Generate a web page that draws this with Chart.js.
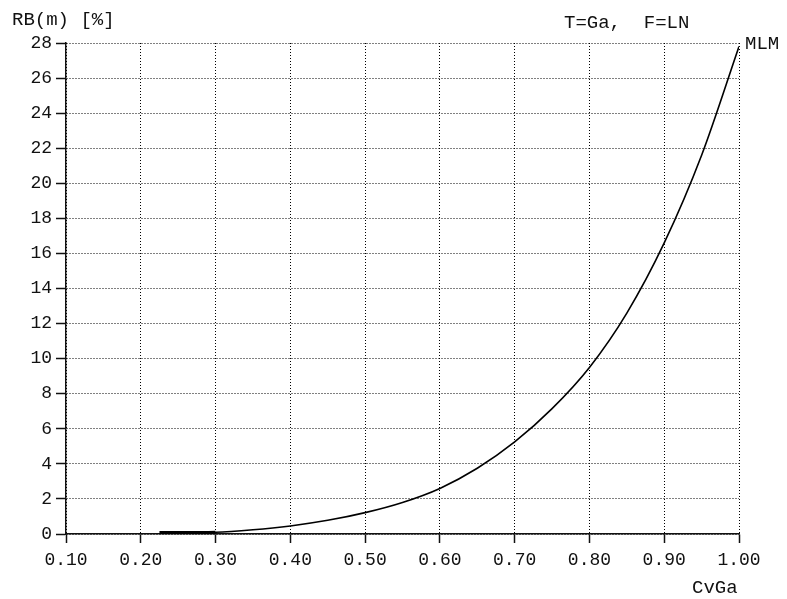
<!DOCTYPE html>
<html>
<head>
<meta charset="utf-8">
<script src="https://cdn.jsdelivr.net/npm/chart.js@4"></script>
<style>
  html, body { margin: 0; padding: 0; background: #fff; }
  .wrap { width: 787px; height: 599px; position: relative; }
</style>
</head>
<body>
<div class="wrap"><canvas class="chart"></canvas></div>
<script>
// relative bias of the MLM estimate vs. CvGa
const cvGa = [0.225, 0.25, 0.30, 0.35, 0.40, 0.45, 0.50, 0.55, 0.60, 0.65, 0.70, 0.75, 0.80, 0.85, 0.90, 0.95, 1.00];
const rbm  = [0.08, 0.08, 0.10, 0.24, 0.46, 0.78, 1.22, 1.80, 2.60, 3.75, 5.25, 7.15, 9.5, 12.6, 16.6, 21.6, 27.8];
const seriesName = 'MLM';
const yTitle = 'RB(m) [%]';
const xTitle = 'CvGa';
const caseLabel = 'T=Ga,  F=LN';

const FONT = '"Liberation Mono", "DejaVu Sans Mono", monospace';
Chart.defaults.font.family = FONT;
Chart.defaults.font.size = 18;
Chart.defaults.color = '#111';

const labelsPlugin = {
    id: 'labels',
    afterDatasetsDraw(chart) {
        const ctx = chart.ctx;
        ctx.save();
        ctx.fillStyle = '#111';
        ctx.font = '19px ' + FONT;
        ctx.textBaseline = 'alphabetic';
        ctx.textAlign = 'left';
        ctx.fillText(yTitle, 12, 25);
        ctx.fillText(caseLabel, 564, 28);
        ctx.fillText(xTitle, 692, 593);
        // series name next to its last point
        const pts = chart.getDatasetMeta(0).data;
        const last = pts[pts.length - 1];
        ctx.fillText(seriesName, last.x + 6, last.y + 2);
        ctx.restore();
    }
};

new Chart(document.querySelector('.chart'), {
    type: 'line',
    data: {
        datasets: [{
            label: seriesName,
            data: cvGa.map((x, i) => ({ x: x, y: rbm[i] })),
            borderColor: '#000',
            borderWidth: 1.6,
            pointRadius: 0,
            cubicInterpolationMode: 'monotone',
            segment: {
                borderWidth: c => c.p1.parsed.x <= 0.3 ? 3 : 1.6
            }
        }]
    },
    options: {
        responsive: true,
        maintainAspectRatio: false,
        animation: false,
        layout: { padding: { top: 43, right: 48, left: 0, bottom: 0 } },
        plugins: { legend: { display: false }, tooltip: { enabled: false } },
        scales: {
            x: {
                type: 'linear',
                min: 0.1,
                max: 1.0,
                ticks: {
                    stepSize: 0.1,
                    padding: 6,
                    maxRotation: 0,
                    callback: v => Number(v).toFixed(2)
                },
                grid: {
                    color: '#000',
                    lineWidth: 1,
                    tickLength: 9,
                    tickColor: '#111',
                    tickWidth: 1.5,
                    tickBorderDash: []
                },
                border: { display: true, color: '#111', width: 1.5, dash: [1, 2] },
                afterFit: s => { s.height = 65; }
            },
            y: {
                min: 0,
                max: 28,
                ticks: { stepSize: 2, padding: 4 },
                grid: {
                    color: '#000',
                    lineWidth: 1,
                    tickLength: 10,
                    tickColor: '#111',
                    tickWidth: 1.5,
                    tickBorderDash: []
                },
                border: { display: true, color: '#111', width: 1.5, dash: [1, 2] },
                afterFit: s => { s.width = 66; }
            }
        }
    },
    plugins: [labelsPlugin]
});
</script>
</body>
</html>
